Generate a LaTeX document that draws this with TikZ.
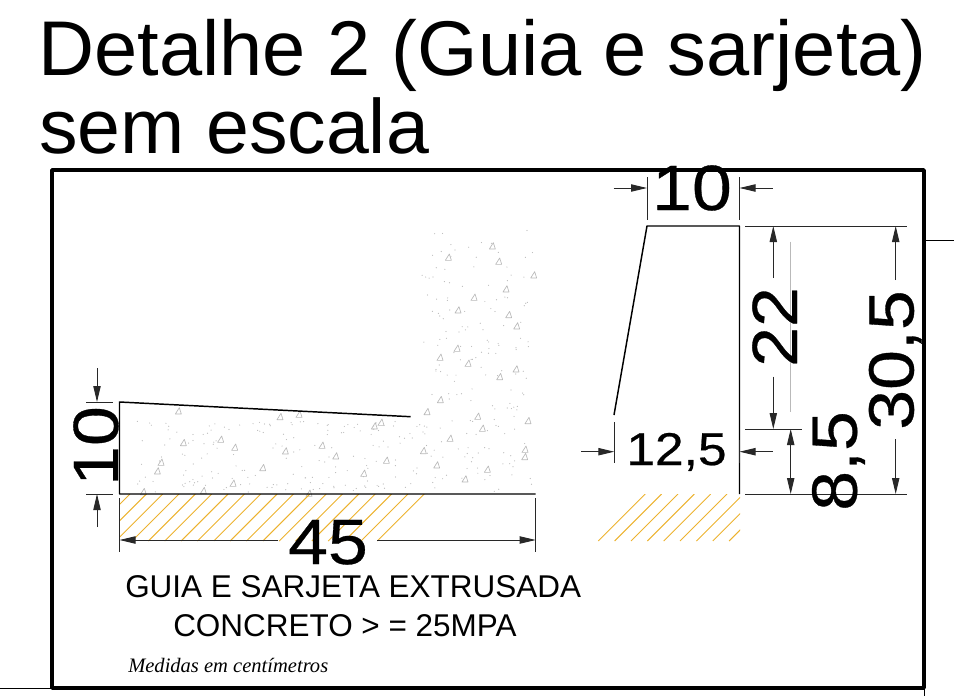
\documentclass[tikz,border=0pt]{standalone}
\usepackage{fontspec}
\setmainfont{Liberation Sans}
\newfontfamily\serifit{Liberation Serif}
\newfontfamily\dimfont[FakeBold=.5,FakeStretch=1.12]{Liberation Sans}
\usetikzlibrary{arrows.meta}
\definecolor{hatchcol}{RGB}{236,178,46}
\definecolor{stonecol}{RGB}{185,185,185}
\definecolor{dimcol}{RGB}{40,40,40}
\tikzset{
  outline/.style={line width=1.1pt,black},
  hatchline/.style={line width=.7pt,hatchcol},
  stone/.style={line width=.5pt,stonecol},
  extline/.style={line width=.7pt,dimcol},
  dimline/.style={line width=.7pt,dimcol,-{Stealth[inset=0pt,length=12pt,width=5.5pt]}},
  dimtext/.style={font=\dimfont\fontsize{48}{48}\selectfont,inner sep=0pt},
  dimvert/.style={dimtext,rotate=90,anchor=base},
}
\begin{document}
\begin{tikzpicture}[x=.75pt,y=-.75pt,line join=round]
    \useasboundingbox (0,0) rectangle (954,696);
    % moldura
    \draw[line width=2.6pt] (52,170) rectangle (924,688);
    \coordinate (FR) at (925,240);
    \coordinate (FRe) at (954,240);
    \coordinate (FL) at (52,688);
    \coordinate (FLe) at (0,688);
    \coordinate (FB) at (924,688);
    \coordinate (FBe) at (924,696);
    \draw[line width=.7pt](FR)--(FRe);
    \draw[line width=.7pt](FL)--(FLe);
    \draw[line width=.7pt](FB)--(FBe);
    % titulo
    \node[anchor=base west,inner sep=0pt,font=\fontsize{58.2}{58.2}\selectfont] (titleA) at (38,75) {Detalhe 2 (Guia e sarjeta)};
    \node[anchor=base west,inner sep=0pt,font=\fontsize{57.8}{57.8}\selectfont] (titleB) at (39,153) {sem escala};
    % concreto: pontos e pedras
    \pgfmathsetseed{17}
    \foreach \i in {1,...,170}{
      \pgfmathsetmacro\dotx{135+285*rnd}
      \pgfmathsetmacro\doty{420+72*rnd}
      \fill[stonecol] (\dotx,\doty) circle (.45pt);
    }
    \foreach \i in {1,...,170}{
      \pgfmathsetmacro\dotx{420+113*rnd}
      \pgfmathsetmacro\doty{230+262*rnd}
      \fill[stonecol] (\dotx,\doty) circle (.45pt);
    }
    \begin{scope}[shift={(50,220)},x=.25pt,y=-.25pt]
      \foreach \sx/\sy in {385/573,690/590,747/583,973/618,993/607,400/668,512/658,554/682,706/693,816/676,857/708,1009/721,333/727,322/753,638/743,549/790,941/760,280/815,460/812,777/820,
        1327/78,1195/112,1346/124,1451/165,1368/207,1272/232,1224/270,1376/284,1400/318,1221/385,1170/412,1254/430,1398/447,1349/470,1171/539,1131/575,1283/589,1434/602,1297/625,1200/655,1120/692,1425/688,1424/710,1160/735,1312/748,1245/777}{
        \draw[stone] (\sx-9,\sy+9)--(\sx+9,\sy+9)--(\sx+3,\sy-10)--cycle;
      }
    \end{scope}
    % hachuras
    \begin{scope}
      \clip (119.5,494) rectangle (430,541);
      \foreach \i in {0,...,18}{
        \pgfmathsetmacro\hx{130+16.35*\i}
        \draw[hatchline] (\hx,494)--(\hx-47,541);
      }
    \end{scope}
    \begin{scope}
      \clip (590,494) rectangle (740,541);
      \foreach \i in {0,...,8}{
        \pgfmathsetmacro\hx{598.3+16.35*\i}
        \draw[hatchline] (\hx,541)--(\hx+47,494);
      }
    \end{scope}
    % sarjeta
    \coordinate (A) at (119.5,402);
    \coordinate (B) at (119.5,494);
    \coordinate (C) at (535.7,494);
    \coordinate (D) at (410.7,416.7);
    \draw[outline](D)--(A)--(B)--(C);
    % guia
    \coordinate (E) at (614,415);
    \coordinate (F) at (647,226);
    \coordinate (G) at (739.5,226);
    \coordinate (H) at (739.5,494);
    \draw[outline](E)--(F)--(G)--(H);
    % cota 10 (esquerda)
    \coordinate (p1) at (86,402);
    \coordinate (p1e) at (113,402);
    \coordinate (p2) at (86,494);
    \coordinate (p2e) at (113,494);
    \coordinate (a1) at (97,368);
    \coordinate (a1e) at (97,402);
    \coordinate (a2) at (97,527);
    \coordinate (a2e) at (97,494);
    \draw[extline](p1)--(p1e);
    \draw[extline](p2)--(p2e);
    \draw[dimline](a1)--(a1e);
    \draw[dimline](a2)--(a2e);
    \node[dimvert] (dimTen) at (118,446) {10};
    % cota 45
    \coordinate (q1) at (119.5,498);
    \coordinate (q1e) at (119.5,552);
    \coordinate (q2) at (535.7,498);
    \coordinate (q2e) at (535.7,552);
    \coordinate (b1) at (278,540);
    \coordinate (b1e) at (119.5,540);
    \coordinate (b2) at (377,540);
    \coordinate (b2e) at (535.7,540);
    \draw[extline](q1)--(q1e);
    \draw[extline](q2)--(q2e);
    \draw[dimline](b1)--(b1e);
    \draw[dimline](b2)--(b2e);
    \node[dimtext,anchor=base] (dimFortyFive) at (328,564) {45};
    % cota 10 (topo)
    \coordinate (r1) at (647,177);
    \coordinate (r1e) at (647,220);
    \coordinate (r2) at (739.5,177);
    \coordinate (r2e) at (739.5,220);
    \coordinate (c1) at (613.5,188);
    \coordinate (c1e) at (647,188);
    \coordinate (c2) at (772.5,188);
    \coordinate (c2e) at (739.5,188);
    \draw[extline](r1)--(r1e);
    \draw[extline](r2)--(r2e);
    \draw[dimline](c1)--(c1e);
    \draw[dimline](c2)--(c2e);
    \node[dimtext,anchor=base] (dimTop) at (692,210) {10};
    % cota 12,5
    \coordinate (s1) at (614.3,422);
    \coordinate (s1e) at (614.3,463);
    \coordinate (s2) at (739.5,440);
    \coordinate (s2e) at (739.5,463);
    \coordinate (d1) at (581,451.7);
    \coordinate (d1e) at (614.3,451.7);
    \coordinate (d2) at (772.5,451.7);
    \coordinate (d2e) at (739.5,451.7);
    \draw[extline](s1)--(s1e);
    \draw[extline](s2)--(s2e);
    \draw[dimline](d1)--(d1e);
    \draw[dimline](d2)--(d2e);
    \node[inner sep=0pt,anchor=base,font=\dimfont\fontsize{34.5}{34.5}\selectfont] (dimBase) at (676.5,465) {12,5};
    % linhas de chamada a direita
    \coordinate (t1) at (745,226);
    \coordinate (t1e) at (906.7,226);
    \coordinate (t2) at (745,429);
    \coordinate (t2e) at (801.7,429);
    \coordinate (t3) at (745,494);
    \coordinate (t3e) at (906.7,494);
    \coordinate (t4) at (790.7,241.7);
    \coordinate (t4e) at (790.7,411.7);
    \draw[extline](t1)--(t1e);
    \draw[extline](t2)--(t2e);
    \draw[extline](t3)--(t3e);
    \draw[stone,line width=.8pt](t4)--(t4e);
    % cota 22
    \coordinate (e1) at (773.3,278);
    \coordinate (e1e) at (773.3,226);
    \coordinate (e2) at (773.3,376.7);
    \coordinate (e2e) at (773.3,429);
    \draw[dimline](e1)--(e1e);
    \draw[dimline](e2)--(e2e);
    \node[dimvert] (dimCurb) at (797,327) {22};
    % cota 8,5
    \coordinate (f1) at (790.7,429);
    \coordinate (f2) at (790.7,494);
    \draw[dimline,{Stealth[inset=0pt,length=12pt,width=5.5pt]}-{Stealth[inset=0pt,length=12pt,width=5.5pt]}](f1)--(f2);
    \node[dimvert] (dimLow) at (856.7,461) {8,5};
    % cota 30,5
    \coordinate (g1) at (895.7,280);
    \coordinate (g1e) at (895.7,226);
    \coordinate (g2) at (895.7,439);
    \coordinate (g2e) at (895.7,494);
    \draw[dimline](g1)--(g1e);
    \draw[dimline](g2)--(g2e);
    \node[dimvert] (dimTotal) at (913.5,360) {30,5};
    % textos
    \node[anchor=base west,inner sep=0pt,font=\fontsize{23.6}{23.6}\selectfont] (noteA) at (125,597) {GUIA E SARJETA EXTRUSADA};
    \node[anchor=base west,inner sep=0pt,font=\fontsize{23.6}{23.6}\selectfont] (noteB) at (173,636) {CONCRETO > = 25MPA};
    \node[anchor=base west,inner sep=0pt,font=\serifit\itshape\fontsize{15.4}{15.4}\selectfont] (noteC) at (128,672) {Medidas em centímetros};
  \end{tikzpicture}
\end{document}
